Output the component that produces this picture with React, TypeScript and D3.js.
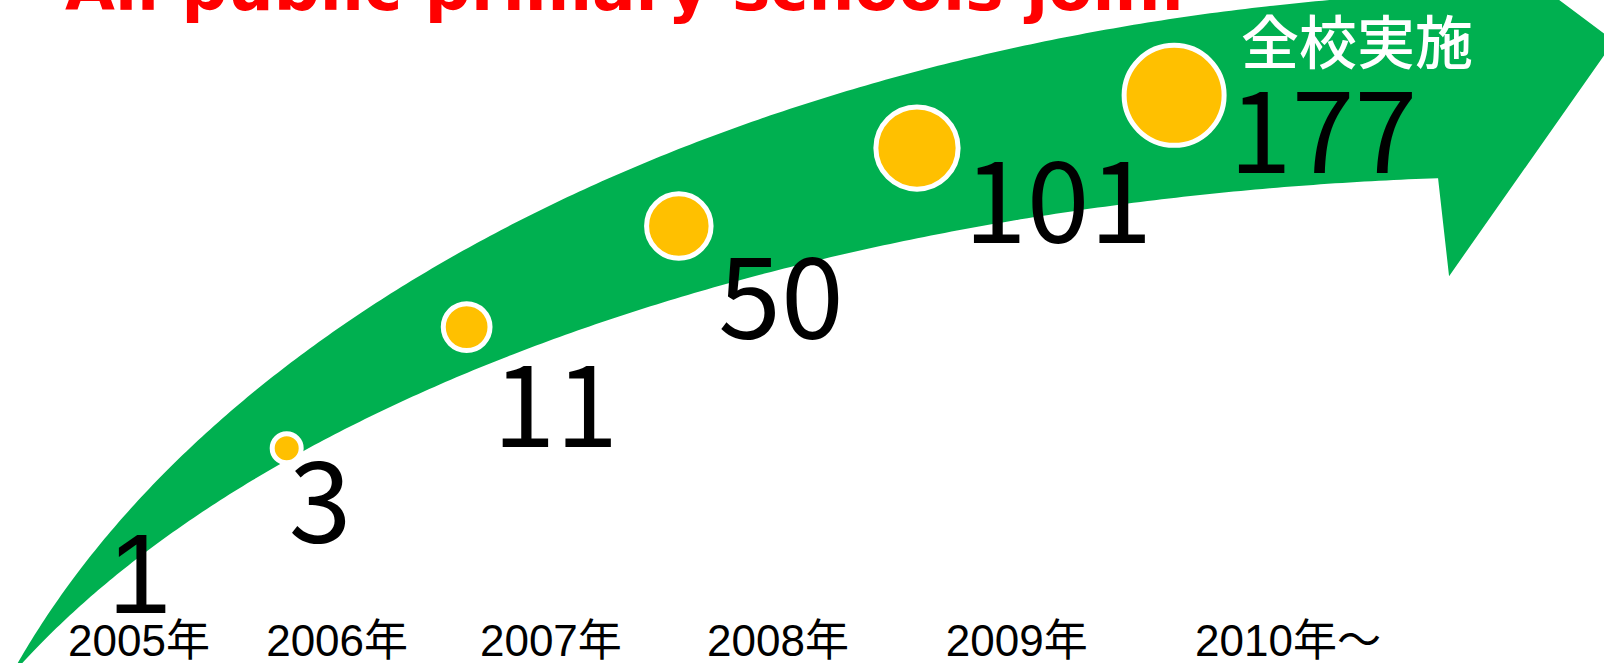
import { useEffect, useRef } from 'react'
import * as d3 from 'd3'

// ── data ─────────────────────────────────────────────────────────────────────
const YEARS   = ['2005年', '2006年', '2007年', '2008年', '2009年', '2010年～']
const SCHOOLS = [1, 3, 11, 50, 101, 177]
const TITLE   = 'All public primary schools join.'
const BADGE   = '全校実施'

// ── constants ────────────────────────────────────────────────────────────────
const W        = 1604
const H        = 663
const C_GREEN  = '#00B050'
const C_DOT    = '#FFC000'
const C_TITLE  = '#FF0000'
const F_LATIN  = '"Liberation Sans", Arial, "Noto Sans CJK JP", sans-serif'
const F_NUM    = '"Noto Sans CJK JP", "Noto Sans", sans-serif'
const F_TITLE  = '"DejaVu Sans", sans-serif'

// every curve of the sweep is a quarter ellipse opening towards the lower right
const CX = 1560
type Ell = { cy: number; rx: number; ry: number }
const OUTER: Ell = { cy: 1000, rx: 1636, ry: 1010 }   // upper edge of the arrow
const INNER: Ell = { cy: 1000, rx: 1685, ry: 824 }    // lower edge of the arrow
const TRACK: Ell = { cy: 1008, rx: 1584, ry: 941 }    // where the dots sit

const rad = (deg: number) => (deg * Math.PI) / 180
const onEll = (e: Ell, deg: number): [number, number] =>
  [CX - e.rx * Math.cos(rad(deg)), e.cy - e.ry * Math.sin(rad(deg))]

export default function App() {
  const ref = useRef<SVGSVGElement>(null)

  useEffect(() => {
    if (!ref.current) return
    const svg = d3.select(ref.current)
    svg.selectAll('*').remove()

    const idx  = d3.range(YEARS.length)
    const last = idx.length - 1

    // ── scales ───────────────────────────────────────────────────────────────
    // year slots widen towards the right, so gentle power scales
    const xYear  = d3.scalePow().exponent(1.3).domain([3, 3 + last]).range([68, 1195])
    const xCount = d3.scalePow().exponent(1.6).domain([4, 4 + last]).range([108, 1229])
    const yCount = d3.scaleLinear().domain([0, 1]).range([613, 173])
    const ease   = d3.easePolyInOut.exponent(1.25)
    const angle  = d3.scaleLinear().domain([1, last]).range([36.5, 75.9])
    const rDot   = d3.scaleLinear().domain([1, last]).range([14.5, 50])

    svg.append('rect').attr('width', W).attr('height', H).attr('fill', '#fff')

    // ── title (mostly above the frame) ───────────────────────────────────────
    svg.append('text')
      .attr('x', 65).attr('y', 10)
      .attr('font-family', F_TITLE).attr('font-weight', 700).attr('font-size', 64.5)
      .attr('textLength', 1120).attr('lengthAdjust', 'spacingAndGlyphs')
      .attr('fill', C_TITLE)
      .text(TITLE)

    // ── arrow ────────────────────────────────────────────────────────────────
    const upper  = d3.range(18.65, 85.7, 0.25).map(t => onEll(OUTER, t))
    const lower  = d3.range(23.08, 85.85, 0.25).map(t => onEll(INNER, t))
    const topEnd = onEll(OUTER, 85.7)
    const botEnd = onEll(INNER, 85.85)
    const head: [number, number][] = [
      topEnd,
      [topEnd[0] + 11, topEnd[1] - 76],
      [botEnd[0] + 176, botEnd[1] - 137],
      [botEnd[0] + 11, botEnd[1] + 98],
      botEnd,
    ]
    const outline = [...upper, ...head, ...lower.reverse()]
    svg.append('path')
      .attr('d', (d3.line()(outline) ?? '') + 'Z')
      .attr('fill', C_GREEN)

    // ── dots ─────────────────────────────────────────────────────────────────
    svg.append('g')
      .selectAll('circle')
      .data(idx.filter(i => i > 0))
      .join('circle')
        .attr('cx', i => onEll(TRACK, angle(i))[0])
        .attr('cy', i => onEll(TRACK, angle(i))[1])
        .attr('r', i => rDot(i))
        .attr('fill', C_DOT)
        .attr('stroke', '#fff')
        .attr('stroke-width', 5)

    // ── counts ───────────────────────────────────────────────────────────────
    svg.append('g')
      .selectAll('text')
      .data(idx)
      .join('text')
        .attr('x', i => xCount(i + 4))
        .attr('y', i => yCount(ease(i / last)))
        .attr('font-family', i => (i === 0 ? F_LATIN : F_NUM))
        .attr('font-size', 113)
        .attr('fill', '#000')
        .text(i => String(SCHOOLS[i]))

    // ── year labels ──────────────────────────────────────────────────────────
    svg.append('g')
      .selectAll('text')
      .data(idx)
      .join('text')
        .attr('x', i => xYear(i + 3))
        .attr('y', 656)
        .attr('font-family', F_LATIN).attr('font-size', 44)
        .attr('fill', '#000')
        .text(i => YEARS[i])

    // ── badge over the last count ────────────────────────────────────────────
    svg.append('text')
      .attr('x', xCount(last + 4) + 12)
      .attr('y', yCount(1) - 109)
      .attr('font-family', F_NUM).attr('font-weight', 500).attr('font-size', 58)
      .attr('fill', '#fff')
      .text(BADGE)
  }, [])

  return (
    <svg
      ref={ref}
      width={W}
      height={H}
      viewBox={`0 0 ${W} ${H}`}
      style={{ position: 'fixed', left: 0, top: 0, display: 'block' }}
    />
  )
}
